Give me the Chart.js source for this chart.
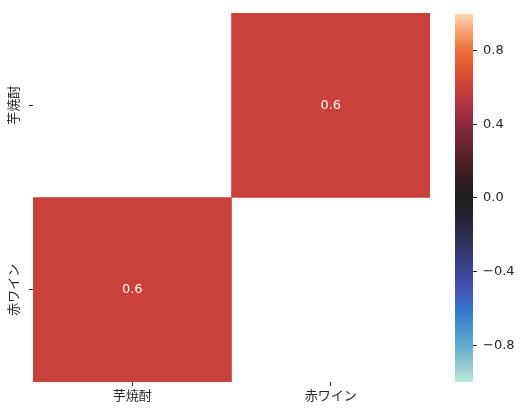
<!DOCTYPE html>
<html><head><meta charset="utf-8">
<script src="https://cdn.jsdelivr.net/npm/chart.js@4.4.1/dist/chart.umd.min.js"></script>
<style>html,body{margin:0;padding:0;background:#fff;}#wrap{position:relative;width:523px;height:416px;}canvas{position:absolute;top:0;}</style>
</head><body><div id="wrap"><canvas id="hm" width="523" height="416" style="left:0"></canvas><canvas id="cb" width="83" height="416" style="left:440px"></canvas></div>
<script>
const labels = ['芋焼酎', '赤ワイン'];
const row0 = [null, 0.6];
const row1 = [0.6, null];
const values = [row0, row1];
const cbTicks = [-0.8, -0.4, 0, 0.4, 0.8];
const vmin = -1, vmax = 1;

const FONT = '"DejaVu Sans","Noto Sans CJK JP",sans-serif';
const TXT = '#262626';
const stops = [
  [0.00,[189,231,219]],[0.05,[140,200,210]],[0.10,[95,170,205]],[0.15,[68,145,205]],
  [0.20,[54,115,205]],[0.25,[66,84,183]],[0.30,[62,68,150]],[0.35,[55,56,115]],
  [0.40,[44,44,80]],[0.45,[35,35,50]],[0.50,[32,31,31]],[0.55,[50,30,32]],
  [0.60,[78,32,40]],[0.65,[108,36,52]],[0.70,[140,42,65]],[0.75,[175,50,65]],
  [0.80,[201,65,58]],[0.85,[222,85,50]],[0.90,[236,110,60]],[0.95,[245,160,110]],
  [1.00,[253,215,180]]
];
function cmapT(t){
  t = Math.max(0, Math.min(1, t));
  for (let i=1;i<stops.length;i++){
    if (t <= stops[i][0]){
      const [t0,c0]=stops[i-1],[t1,c1]=stops[i];
      const f=(t-t0)/(t1-t0);
      const c=c0.map((v,k)=>Math.round(v+(c1[k]-v)*f));
      return `rgb(${c[0]},${c[1]},${c[2]})`;
    }
  }
  return 'rgb(253,215,180)';
}
function cmap(v){ return cmapT((v - vmin)/(vmax - vmin)); }

const datasets = values.map((row, r) => ({
  label: labels[r],
  data: row.map(v => v === null ? null : [r, r + 1]),
  backgroundColor: row.map(v => v === null ? 'rgba(0,0,0,0)' : cmap(v)),
  barPercentage: 1, categoryPercentage: 1, grouped: false, borderWidth: 0
}));

const annot = {
  id: 'annot',
  afterDatasetsDraw(chart){
    const ctx = chart.ctx;
    ctx.save();
    ctx.font = '13px ' + FONT;
    ctx.fillStyle = '#ffffff';
    ctx.textAlign = 'center';
    ctx.textBaseline = 'middle';
    values.forEach((row, r) => {
      const meta = chart.getDatasetMeta(r);
      row.forEach((v, c) => {
        if (v === null) return;
        const el = meta.data[c];
        ctx.fillText(v.toFixed(1), el.x, (el.y + el.base) / 2);
      });
    });
    const ys = chart.scales.y;
    ctx.fillStyle = TXT;
    labels.forEach((lab, r) => {
      const py = ys.getPixelForValue(r + 0.5);
      ctx.save();
      ctx.translate(15, py);
      ctx.rotate(-Math.PI / 2);
      ctx.fillText(lab, 0, 0);
      ctx.restore();
    });
    ctx.restore();
  }
};

new Chart(document.getElementById('hm'), {
  type: 'bar',
  data: { labels: labels, datasets: datasets },
  options: {
    responsive: false, animation: false,
    layout: { padding: { top: 13, right: 93, left: 0, bottom: 0 } },
    plugins: { legend: { display: false }, tooltip: { enabled: false } },
    scales: {
      x: {
        type: 'category',
        grid: { display: true, drawOnChartArea: false, drawTicks: true, tickLength: 4, tickColor: TXT, offset: false, lineWidth: 1 },
        border: { display: false },
        ticks: { color: TXT, font: { family: FONT, size: 13 }, padding: 3, maxRotation: 0 },
        afterFit(s){ s.height = 34; }
      },
      y: {
        type: 'linear', min: 0, max: 2, reverse: true,
        afterBuildTicks(s){ s.ticks = [{ value: 0.5 }, { value: 1.5 }]; },
        grid: { display: true, drawOnChartArea: false, drawTicks: true, tickLength: 4, tickColor: TXT, lineWidth: 1 },
        border: { display: false },
        ticks: { callback: () => '', padding: 0 },
        afterFit(s){ s.width = 33; }
      }
    }
  },
  plugins: [annot]
});

new Chart(document.getElementById('cb'), {
  type: 'bar',
  data: { labels: [''], datasets: [{
    data: [[vmin, vmax]],
    barPercentage: 1, categoryPercentage: 1, borderWidth: 0,
    backgroundColor(ctx){
      const ca = ctx.chart.chartArea;
      if (!ca) return 'rgba(0,0,0,0)';
      const g = ctx.chart.ctx.createLinearGradient(0, ca.bottom, 0, ca.top);
      stops.forEach(([t]) => g.addColorStop(t, cmapT(t)));
      return g;
    }
  }]},
  options: {
    responsive: false, animation: false,
    layout: { padding: { top: 13, bottom: 34, left: 15, right: 0 } },
    plugins: { legend: { display: false }, tooltip: { enabled: false } },
    scales: {
      x: { display: false },
      y: {
        position: 'right', min: vmin, max: vmax,
        afterBuildTicks(s){ s.ticks = cbTicks.map(v => ({ value: v })); },
        grid: { display: true, drawOnChartArea: false, drawTicks: true, tickLength: 4, tickColor: TXT, lineWidth: 1 },
        border: { display: false },
        ticks: { color: TXT, font: { family: FONT, size: 13 }, padding: 6,
          callback: v => (v < 0 ? '\u2212' : '') + Math.abs(v).toFixed(1) },
        afterFit(s){ s.width = 50; }
      }
    }
  }
});
</script></body></html>
